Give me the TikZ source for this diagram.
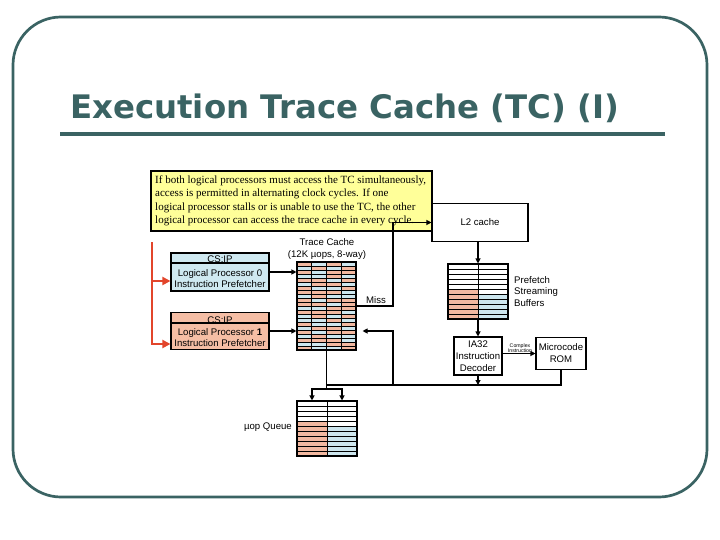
\documentclass[tikz,border=0pt]{standalone}
\usepackage{fontspec}
\setmainfont{Liberation Serif}
\newfontfamily\arialf{Liberation Sans}
\newfontfamily\titlef{DejaVu Sans}
\usetikzlibrary{arrows.meta}
\definecolor{teal1}{HTML}{3A6363}
\definecolor{tcS}{HTML}{F2B8A0}
\definecolor{tcB}{HTML}{CDE6EE}
\definecolor{yel}{HTML}{FFFF99}
\definecolor{lpblue}{HTML}{CFE9F1}
\definecolor{lpsal}{HTML}{F5BEA5}
\definecolor{redarr}{HTML}{E2452B}
\begin{document}
\begin{tikzpicture}[x=1pt,y=-1pt,
  box/.style={draw=black, line width=1.1pt, inner sep=0pt},
  lbl/.style={font=\arialf\fontsize{9.6}{11.5}\selectfont, inner sep=0pt, align=center},
  arr/.style={draw=black, line width=1.1pt, -{Triangle[length=5pt,width=5pt]}},
  conn/.style={draw=black, line width=1.1pt},
  gridline/.style={draw=black, line width=0.8pt},
  redarrow/.style={draw=redarr, line width=2.6pt, -{Triangle[length=8pt,width=8pt]}},
]
\useasboundingbox (0,0) rectangle (720,540);
% frame
\draw[teal1, line width=2.7pt, rounded corners=48pt] (13,17) rectangle (707,497);
% title
\node[anchor=base west, inner sep=0pt, text=teal1, font=\titlef\bfseries\fontsize{32.4}{36}\selectfont] (title) at (70,119) {Execution Trace Cache (TC) (I)};
\coordinate (ulL) at (60,134);
\coordinate (ulR) at (665,134);
\draw[teal1, line width=3.5pt] (ulL) -- (ulR);

% yellow note
\node[draw=black, line width=1.8pt, fill=yel, minimum width=281pt, minimum height=60pt, anchor=north west, inner sep=0pt] (note) at (150,170) {};
\node[anchor=north west, inner sep=0pt, align=left, font=\fontsize{11}{13.4}\selectfont] (notetxt) at (155,175.5) {If both logical processors must access the TC simultaneously,\\
access is permitted in alternating clock cycles. If one\\
logical processor stalls or is unable to use the TC, the other\\
logical processor can access the trace cache in every cycle.};

% L2 cache
\node[box, fill=white, minimum width=96pt, minimum height=38pt, lbl] (l2) at (480,222.5) {L2 cache};

% Trace cache grid
\foreach \r/\a/\b/\c/\d in {0/S/B/S/B,1/B/S/B/S,2/S/B/S/S,3/B/B/S/B,4/S/S/B/S,5/B/S/S/B,6/S/B/B/S,7/S/S/S/B,8/B/S/B/B,9/S/B/S/S,10/S/S/B/S,11/B/B/S/S,12/S/S/S/B,13/B/S/B/S,14/B/B/S/B,15/S/B/B/S,16/B/S/S/B,17/S/B/S/S,18/B/S/B/B,19/S/S/S/B,20/B/B/S/S,21/S/B/B/S}
{
  \fill[fill=tc\a] (297,262+4*\r) rectangle ++(14.75,4);
  \fill[fill=tc\b] (311.75,262+4*\r) rectangle ++(14.75,4);
  \fill[fill=tc\c] (326.5,262+4*\r) rectangle ++(14.75,4);
  \fill[fill=tc\d] (341.25,262+4*\r) rectangle ++(14.75,4);
}
\foreach \k in {1,...,21} \draw[black, line width=0.6pt] (297,262+4*\k) -- (356,262+4*\k);
\foreach \k in {1,2,3} \draw[black, line width=0.9pt] (297+14.75*\k,262) -- (297+14.75*\k,350);
\node[box, minimum width=59pt, minimum height=88pt] (tc) at (326.5,306) {};
\node[lbl, anchor=base] (tclbl1) at (327,245) {Trace Cache};
\node[lbl, anchor=base] (tclbl2) at (327,257) {(12K µops, 8-way)};

% Prefetch streaming buffers
\foreach \r in {5,...,10} \fill[tcS] (448,264+5*\r) rectangle ++(30,5);
\foreach \r in {6,...,10} \fill[tcB] (478,264+5*\r) rectangle ++(30,5);
\foreach \k in {1,...,10} \draw[gridline] (448,264+5*\k) -- (508,264+5*\k);
\draw[gridline] (478,264) -- (478,319);
\node[box, minimum width=60pt, minimum height=55pt] (psb) at (478,291.5) {};
\node[lbl, anchor=base west, align=left] (psblbl1) at (514,283) {Prefetch};
\node[lbl, anchor=base west, align=left] (psblbl2) at (514,294.5) {Streaming};
\node[lbl, anchor=base west, align=left] (psblbl3) at (514,306) {Buffers};

% decoder and ROM
\node[box, fill=white, minimum width=48pt, minimum height=38pt, lbl, font=\arialf\fontsize{9.6}{12}\selectfont] (dec) at (478,356) {IA32\\Instruction\\Decoder};
\node[box, fill=white, minimum width=50pt, minimum height=32pt, lbl, font=\arialf\fontsize{9.6}{12}\selectfont] (rom) at (561,353.5) {Microcode\\ROM};
\node[lbl, font=\arialf\fontsize{5.2}{5.6}\selectfont] (cplx) at (520,348) {Complex\\Instruction};

% logical processors
\node[box, fill=lpblue, minimum width=98pt, minimum height=38pt] (lp0) at (220,272) {};
\draw[black, line width=1.1pt] ([yshift=-10.5pt]lp0.north west) -- ([yshift=-10.5pt]lp0.north east);
\node[lbl, anchor=base] (lp0h) at (220,262) {CS:IP};
\node[lbl, anchor=base] (lp0t1) at (220,276) {Logical Processor 0};
\node[lbl, anchor=base] (lp0t2) at (220,287.5) {Instruction Prefetcher};

\node[box, fill=lpsal, minimum width=98pt, minimum height=37pt] (lp1) at (220,331) {};
\draw[black, line width=1.1pt] ([yshift=-11pt]lp1.north west) -- ([yshift=-11pt]lp1.north east);
\node[lbl, anchor=base] (lp1h) at (220,323) {CS:IP};
\node[lbl, anchor=base] (lp1t1) at (220,335) {Logical Processor \textbf{1}};
\node[lbl, anchor=base] (lp1t2) at (220,346.5) {Instruction Prefetcher};

% uop queue
\foreach \r in {4,...,10} \fill[tcS] (297,401+5*\r) rectangle ++(30,5);
\foreach \r in {5,...,10} \fill[tcB] (327,401+5*\r) rectangle ++(30,5);
\foreach \k in {1,...,10} \draw[gridline] (297,401+5*\k) -- (357,401+5*\k);
\draw[gridline] (327,401) -- (327,456);
\node[box, minimum width=60pt, minimum height=55pt] (uq) at (327,428.5) {};
\node[lbl, anchor=base east] (uqlbl) at (292,429) {µop Queue};

% connectors
\draw[arr] (lp0.east) -- (lp0.east -| tc.west);
\draw[arr] (lp1.east) -- (lp1.east -| tc.west);
\coordinate (missx) at (393,260);
\draw[arr] (tc.east) -| (missx) |- (l2.west);
\node[lbl, anchor=base] (misslbl) at (376,303) {Miss};
\draw[arr] (l2.south -| psb.north) -- (psb.north);
\draw[arr] (psb.south) -- (dec.north);
\draw[arr] (dec.east |- rom.west) -- (rom.west);
\coordinate (jn) at (326.5,385);
\coordinate (split) at (326.5,389);
\coordinate (fillb) at (393,385);
\draw[conn] (rom.south) |- (jn);
\draw[arr] (dec.south) -- (dec.south |- jn);
\draw[conn] (tc.south) -- (split);
\draw[arr] (split) -| ([xshift=-15pt]uq.north);
\draw[arr] (split) -| ([xshift=15pt]uq.north);
\draw[arr] (fillb) |- ([xshift=6pt]tc.east |- lp1.east);

% red arrows
\coordinate (rtop) at (152,242);
\coordinate (lp0in) at ([yshift=-9pt]lp0.west);
\coordinate (lp1in) at ([yshift=-13pt]lp1.west);
\draw[redarrow] (rtop) |- (lp1in);
\draw[redarrow] (rtop |- lp0in) -- (lp0in);
\end{tikzpicture}
\end{document}
